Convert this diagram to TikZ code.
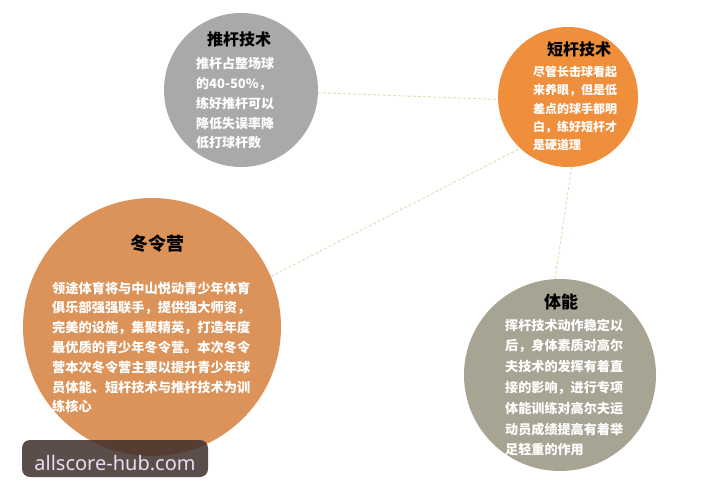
\documentclass[tikz,border=0pt]{standalone}
\usepackage{fontspec}
\newfontfamily\cjk{Noto Sans CJK SC}
\newfontfamily\sito{Noto Sans}
\usepackage{tikz}
\usepackage{xcolor}
\definecolor{grigioPutt}{HTML}{A9A9A9}
\definecolor{arancioCorto}{HTML}{EF8F3C}
\definecolor{arancioCampo}{HTML}{DB935A}
\definecolor{grigioFisico}{HTML}{A7A494}
\definecolor{coloreFilo}{HTML}{E4DBAE}
\definecolor{fondoMarchio}{HTML}{3E2E2A}
\definecolor{testoMarchio}{HTML}{EADDF2}
\tikzset{
    disco/.style = {circle, inner sep = 0pt, minimum size = #1},
    titolo/.style = {anchor = base, inner sep = 0pt, text = black, font = \cjk\bfseries\fontsize{#1}{#1}\selectfont},
    corpo/.style n args = {2}{anchor = base west, align = left, inner sep = 0pt, text = white, font = \cjk\bfseries\fontsize{#1}{#2}\selectfont},
    filo/.style = {draw = coloreFilo, line width = 0.9pt, dash pattern = on 3pt off 2pt}
}

\begin{document}
\begin{tikzpicture}[x = 1pt, y = -1pt]
    % Parametri
    \pgfmathsetmacro{\rPutt}{77}
    \pgfmathsetmacro{\rCorto}{70}
    \pgfmathsetmacro{\rCampo}{129}
    \pgfmathsetmacro{\rFisico}{96}
    \useasboundingbox (0,0) rectangle (707,500);
    % Centri dei dischi
    \coordinate (cPutt) at (241,90);
    \coordinate (cCorto) at (568,97);
    \coordinate (cCampo) at (152,327);
    \coordinate (cFisico) at (560,375);
    % Dischi
    \node[disco = 2*\rPutt pt, fill = grigioPutt] (puttCircle) at (cPutt) {};
    \node[disco = 2*\rCorto pt, fill = arancioCorto] (cortoCircle) at (cCorto) {};
    \node[disco = 2*\rCampo pt, fill = arancioCampo] (campoCircle) at (cCampo) {};
    \node[disco = 2*\rFisico pt, fill = grigioFisico] (fisicoCircle) at (cFisico) {};
    % Fili tratteggiati
    \draw[filo] (puttCircle.-2) -- (cortoCircle.182);
    \draw[filo] (campoCircle.23) -- (cortoCircle.227);
    \draw[filo] (cortoCircle.273) -- (fisicoCircle.93);
    % Titoli
    \node[titolo = 16] (puttTitolo) at (239,46) {推杆技术};
    \node[titolo = 16] (cortoTitolo) at (579,56) {短杆技术};
    \node[titolo = 18] (campoTitolo) at (157,250) {冬令营};
    \node[titolo = 17] (fisicoTitolo) at (561,308) {体能};
    % Testi (ancorati alla base dell'ultima riga)
    \node[corpo = {13}{19.7}] (puttTesto) at (196,147.8) {推杆占整场球\\的40-50\%，\\练好推杆可以\\降低失误率降\\低打球杆数};
    \node[corpo = {12}{18.3}] (cortoTesto) at (533,149.7) {尽管长击球看起\\来养眼，但是低\\差点的球手都明\\白，练好短杆才\\是硬道理};
    \node[corpo = {13.2}{19.8}] (campoTesto) at (52,411.8) {领途体育将与中山悦动青少年体育\\俱乐部强强联手，提供强大师资，\\完美的设施，集聚精英，打造年度\\最优质的青少年冬令营。本次冬令\\营本次冬令营主要以提升青少年球\\员体能、短杆技术与推杆技术为训\\练核心};
    \node[corpo = {13.1}{20.8}] (fisicoTesto) at (505,454.8) {挥杆技术动作稳定以\\后，身体素质对高尔\\夫技术的发挥有着直\\接的影响，进行专项\\体能训练对高尔夫运\\动员成绩提高有着举\\足轻重的作用};
    % Marchio
    \node[fill = fondoMarchio, fill opacity = 0.85, rounded corners = 8pt, minimum width = 186pt, minimum height = 37pt, inner sep = 0pt] (marchioBox) at (115,458.5) {};
    \node[anchor = base, inner sep = 0pt, text = testoMarchio, font = \sito\fontsize{20}{20}\selectfont] (marchio) at (115,470) {allscore-hub.com};
\end{tikzpicture}
\end{document}
